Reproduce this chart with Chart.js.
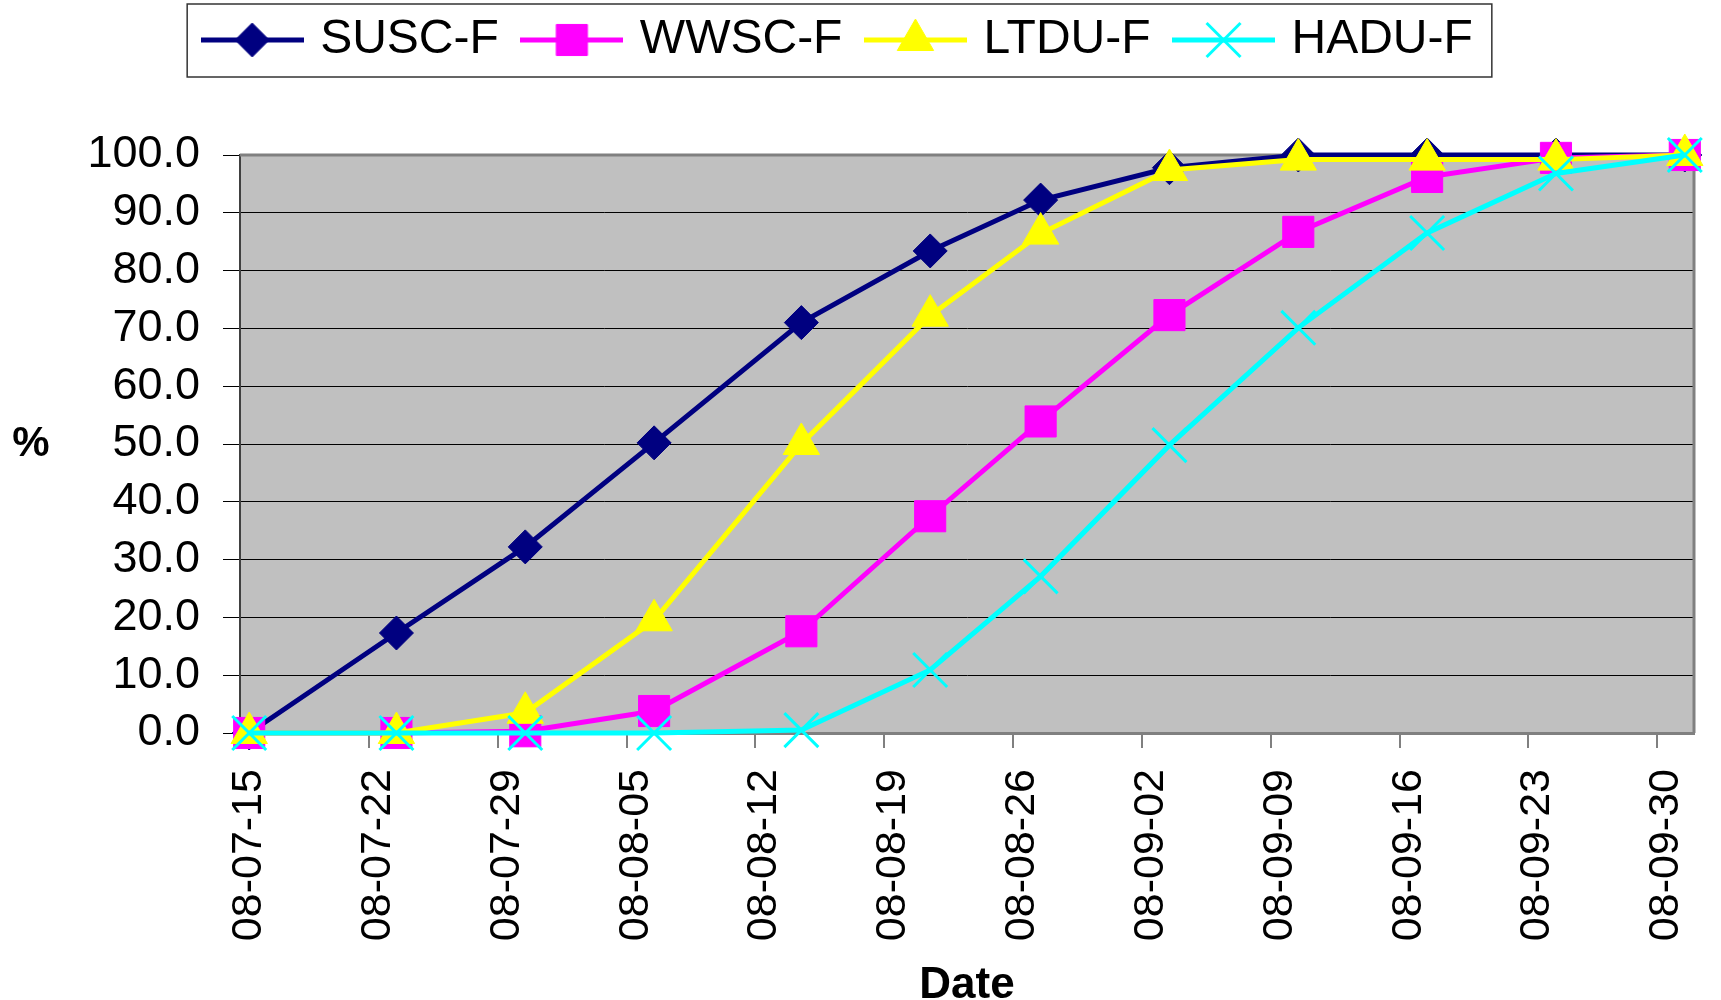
<!DOCTYPE html>
<html>
<head>
<meta charset="utf-8">
<title>SUSC-F / WWSC-F / LTDU-F / HADU-F</title>
<script src="https://cdn.jsdelivr.net/npm/chart.js"></script>
<style>
  html, body { margin: 0; padding: 0; background: #fff; }
  #wrap { width: 1721px; height: 1000px; }
</style>
</head>
<body>
<div id="wrap"><canvas id="grafico" width="1721" height="1000"></canvas></div>
<script>
// datos
var fechas = ["2008-07-15", "2008-07-23", "2008-07-30", "2008-08-06", "2008-08-14", "2008-08-21",
              "2008-08-27", "2008-09-03", "2008-09-10", "2008-09-17", "2008-09-24", "2008-10-01"];
var susc = [0, 17.3, 32.2, 50.2, 71.0, 83.4, 92.2, 97.8, 100, 100, 100, 100];
var wwsc = [0, 0, 0.3, 3.8, 17.6, 37.5, 53.9, 72.3, 86.7, 96.2, 99.5, 100];
var ltdu = [0, 0, 3.5, 19.5, 50.0, 72.2, 86.4, 97.4, 99.2, 99.2, 99.2, 100];
var hadu = [0, 0, 0, 0, 0.5, 10.9, 27.1, 49.8, 70.1, 86.5, 96.8, 100];
var etiquetasX = ["08-07-15", "08-07-22", "08-07-29", "08-08-05", "08-08-12", "08-08-19",
                  "08-08-26", "08-09-02", "08-09-09", "08-09-16", "08-09-23", "08-09-30"];
var diasEje = 79; // 08-07-15 .. 08-10-01

var FUENTE = "'Liberation Sans', Arial, sans-serif";
Chart.defaults.font.family = FUENTE;
Chart.defaults.color = "#000";

// dia (desde la primera fecha) de cada punto
var dia0 = Date.parse(fechas[0]);
function puntos(valores) {
    return valores.map(function (v, i) {
        return { x: Math.round((Date.parse(fechas[i]) - dia0) / 86400000), y: v };
    });
}

var series = [
    { label: "SUSC-F", data: susc, color: "#000080", style: "rectRot", radius: 17, bw: 1 },
    { label: "WWSC-F", data: wwsc, color: "#FF00FF", style: "rect", radius: 22, bw: 1 },
    { label: "LTDU-F", data: ltdu, color: "#FFFF00", style: "triangle", radius: 21, bw: 1 },
    { label: "HADU-F", data: hadu, color: "#00FFFF", style: "crossRot", radius: 24, bw: 3 }
];

// icono de la leyenda: linea + marcador
function iconoLeyenda(s) {
    var c = document.createElement("canvas");
    c.width = 103; c.height = 54;
    var ctx = c.getContext("2d");
    ctx.strokeStyle = s.color;
    ctx.lineWidth = 5;
    ctx.beginPath(); ctx.moveTo(0, 27); ctx.lineTo(103, 27); ctx.stroke();
    ctx.fillStyle = s.color;
    ctx.lineWidth = s.bw;
    Chart.helpers.drawPoint(ctx, { pointStyle: s.style, radius: s.radius, rotation: 0, borderWidth: s.bw }, 51.5, 27);
    return c;
}

var fondo = {
    id: "fondo",
    beforeInit: function (chart) {
        var fit = chart.legend.fit;
        chart.legend.fit = function () { fit.call(this); this.height = 168; };
    },
    afterLayout: function (chart) {
        // la leyenda esta un poco a la izquierda del centro
        chart.legend.left = 0;
        chart.legend.right = chart.width - 40;
        chart.legend.adjustHitBoxes();
    },
    beforeDraw: function (chart) {
        var a = chart.chartArea, ctx = chart.ctx;
        ctx.save();
        ctx.fillStyle = "#C0C0C0";
        ctx.fillRect(a.left, a.top, a.right - a.left, a.bottom - a.top);
        ctx.restore();
    },
    beforeDatasetsDraw: function (chart) {
        var a = chart.chartArea, ctx = chart.ctx;
        ctx.save();
        ctx.strokeStyle = "#808080";
        ctx.lineWidth = 3;
        ctx.beginPath();
        ctx.moveTo(a.left, a.top); ctx.lineTo(a.right, a.top); ctx.lineTo(a.right, a.bottom);
        ctx.stroke();
        ctx.restore();
    },
    afterDraw: function (chart) {
        var ctx = chart.ctx, a = chart.chartArea, lg = chart.legend;
        var hb = lg.legendHitBoxes;
        ctx.save();
        // marco de la leyenda
        var izq = hb[0].left - 7 - 14;
        var der = hb[hb.length - 1].left + hb[hb.length - 1].width + 19;
        var arriba = lg.top + lg.options.labels.padding - 12;
        ctx.strokeStyle = "#333";
        ctx.lineWidth = 1.5;
        ctx.strokeRect(izq, arriba, der - izq, 73);
        // titulo del eje y
        ctx.fillStyle = "#000";
        ctx.font = "bold 42px " + FUENTE;
        ctx.textAlign = "center";
        ctx.textBaseline = "middle";
        ctx.fillText("%", 31, (a.top + a.bottom) / 2);
        ctx.restore();
    }
};

var grafico = new Chart(document.querySelector("#grafico"), {
    type: "line",
    data: {
        datasets: series.map(function (s, i) {
            return {
                label: s.label,
                data: puntos(s.data),
                borderColor: s.color,
                backgroundColor: s.color,
                borderWidth: 5,
                pointStyle: s.style,
                pointRadius: s.radius,
                pointHoverRadius: s.radius,
                pointBackgroundColor: s.color,
                pointBorderColor: s.color,
                pointBorderWidth: s.bw,
                tension: 0,
                clip: false,
                order: series.length - i
            };
        })
    },
    options: {
        responsive: false,
        animation: false,
        devicePixelRatio: 1,
        layout: { padding: { top: -13, left: 0, right: 0, bottom: 0 } },
        plugins: {
            tooltip: { enabled: false },
            legend: {
                position: "top",
                labels: {
                    usePointStyle: true,
                    pointStyleWidth: 88,
                    padding: 29,
                    font: { size: 48 },
                    color: "#000",
                    generateLabels: function (chart) {
                        return series.map(function (s, i) {
                            return {
                                text: s.label,
                                pointStyle: iconoLeyenda(s),
                                fillStyle: s.color,
                                strokeStyle: s.color,
                                lineWidth: 0,
                                hidden: false,
                                datasetIndex: i,
                                fontColor: "#000"
                            };
                        });
                    }
                }
            }
        },
        scales: {
            x: {
                type: "linear",
                min: -0.5,
                max: diasEje - 0.5,
                afterBuildTicks: function (scale) {
                    scale.ticks = etiquetasX.map(function (t, k) { return { value: k * 7 - 0.5 }; });
                },
                afterFit: function (scale) {
                    scale.height = 267;
                    scale.paddingLeft = 0;
                    scale.paddingRight = 19;
                },
                ticks: {
                    autoSkip: false,
                    minRotation: 90,
                    maxRotation: 90,
                    labelOffset: 9.25,
                    padding: 21,
                    font: { size: 43 },
                    callback: function (v) { return etiquetasX[Math.round((v + 0.5) / 7)]; }
                },
                grid: {
                    drawOnChartArea: false,
                    drawTicks: true,
                    tickLength: 15,
                    color: "#808080",
                    lineWidth: 2
                },
                border: { display: true, color: "#808080", width: 3 },
                title: {
                    display: true,
                    text: "Date",
                    font: { size: 44, weight: "bold", lineHeight: 1 },
                    padding: { top: 0, bottom: -8 }
                }
            },
            y: {
                min: 0,
                max: 100,
                afterFit: function (scale) { scale.width = 240; },
                ticks: {
                    stepSize: 10,
                    padding: 23,
                    font: { size: 45 },
                    callback: function (v) { return v.toFixed(1); }
                },
                grid: { color: "#000", lineWidth: 1, tickLength: 17 },
                border: { display: true, color: "#404040", width: 2 }
            }
        }
    },
    plugins: [fondo]
});
</script>
</body>
</html>
